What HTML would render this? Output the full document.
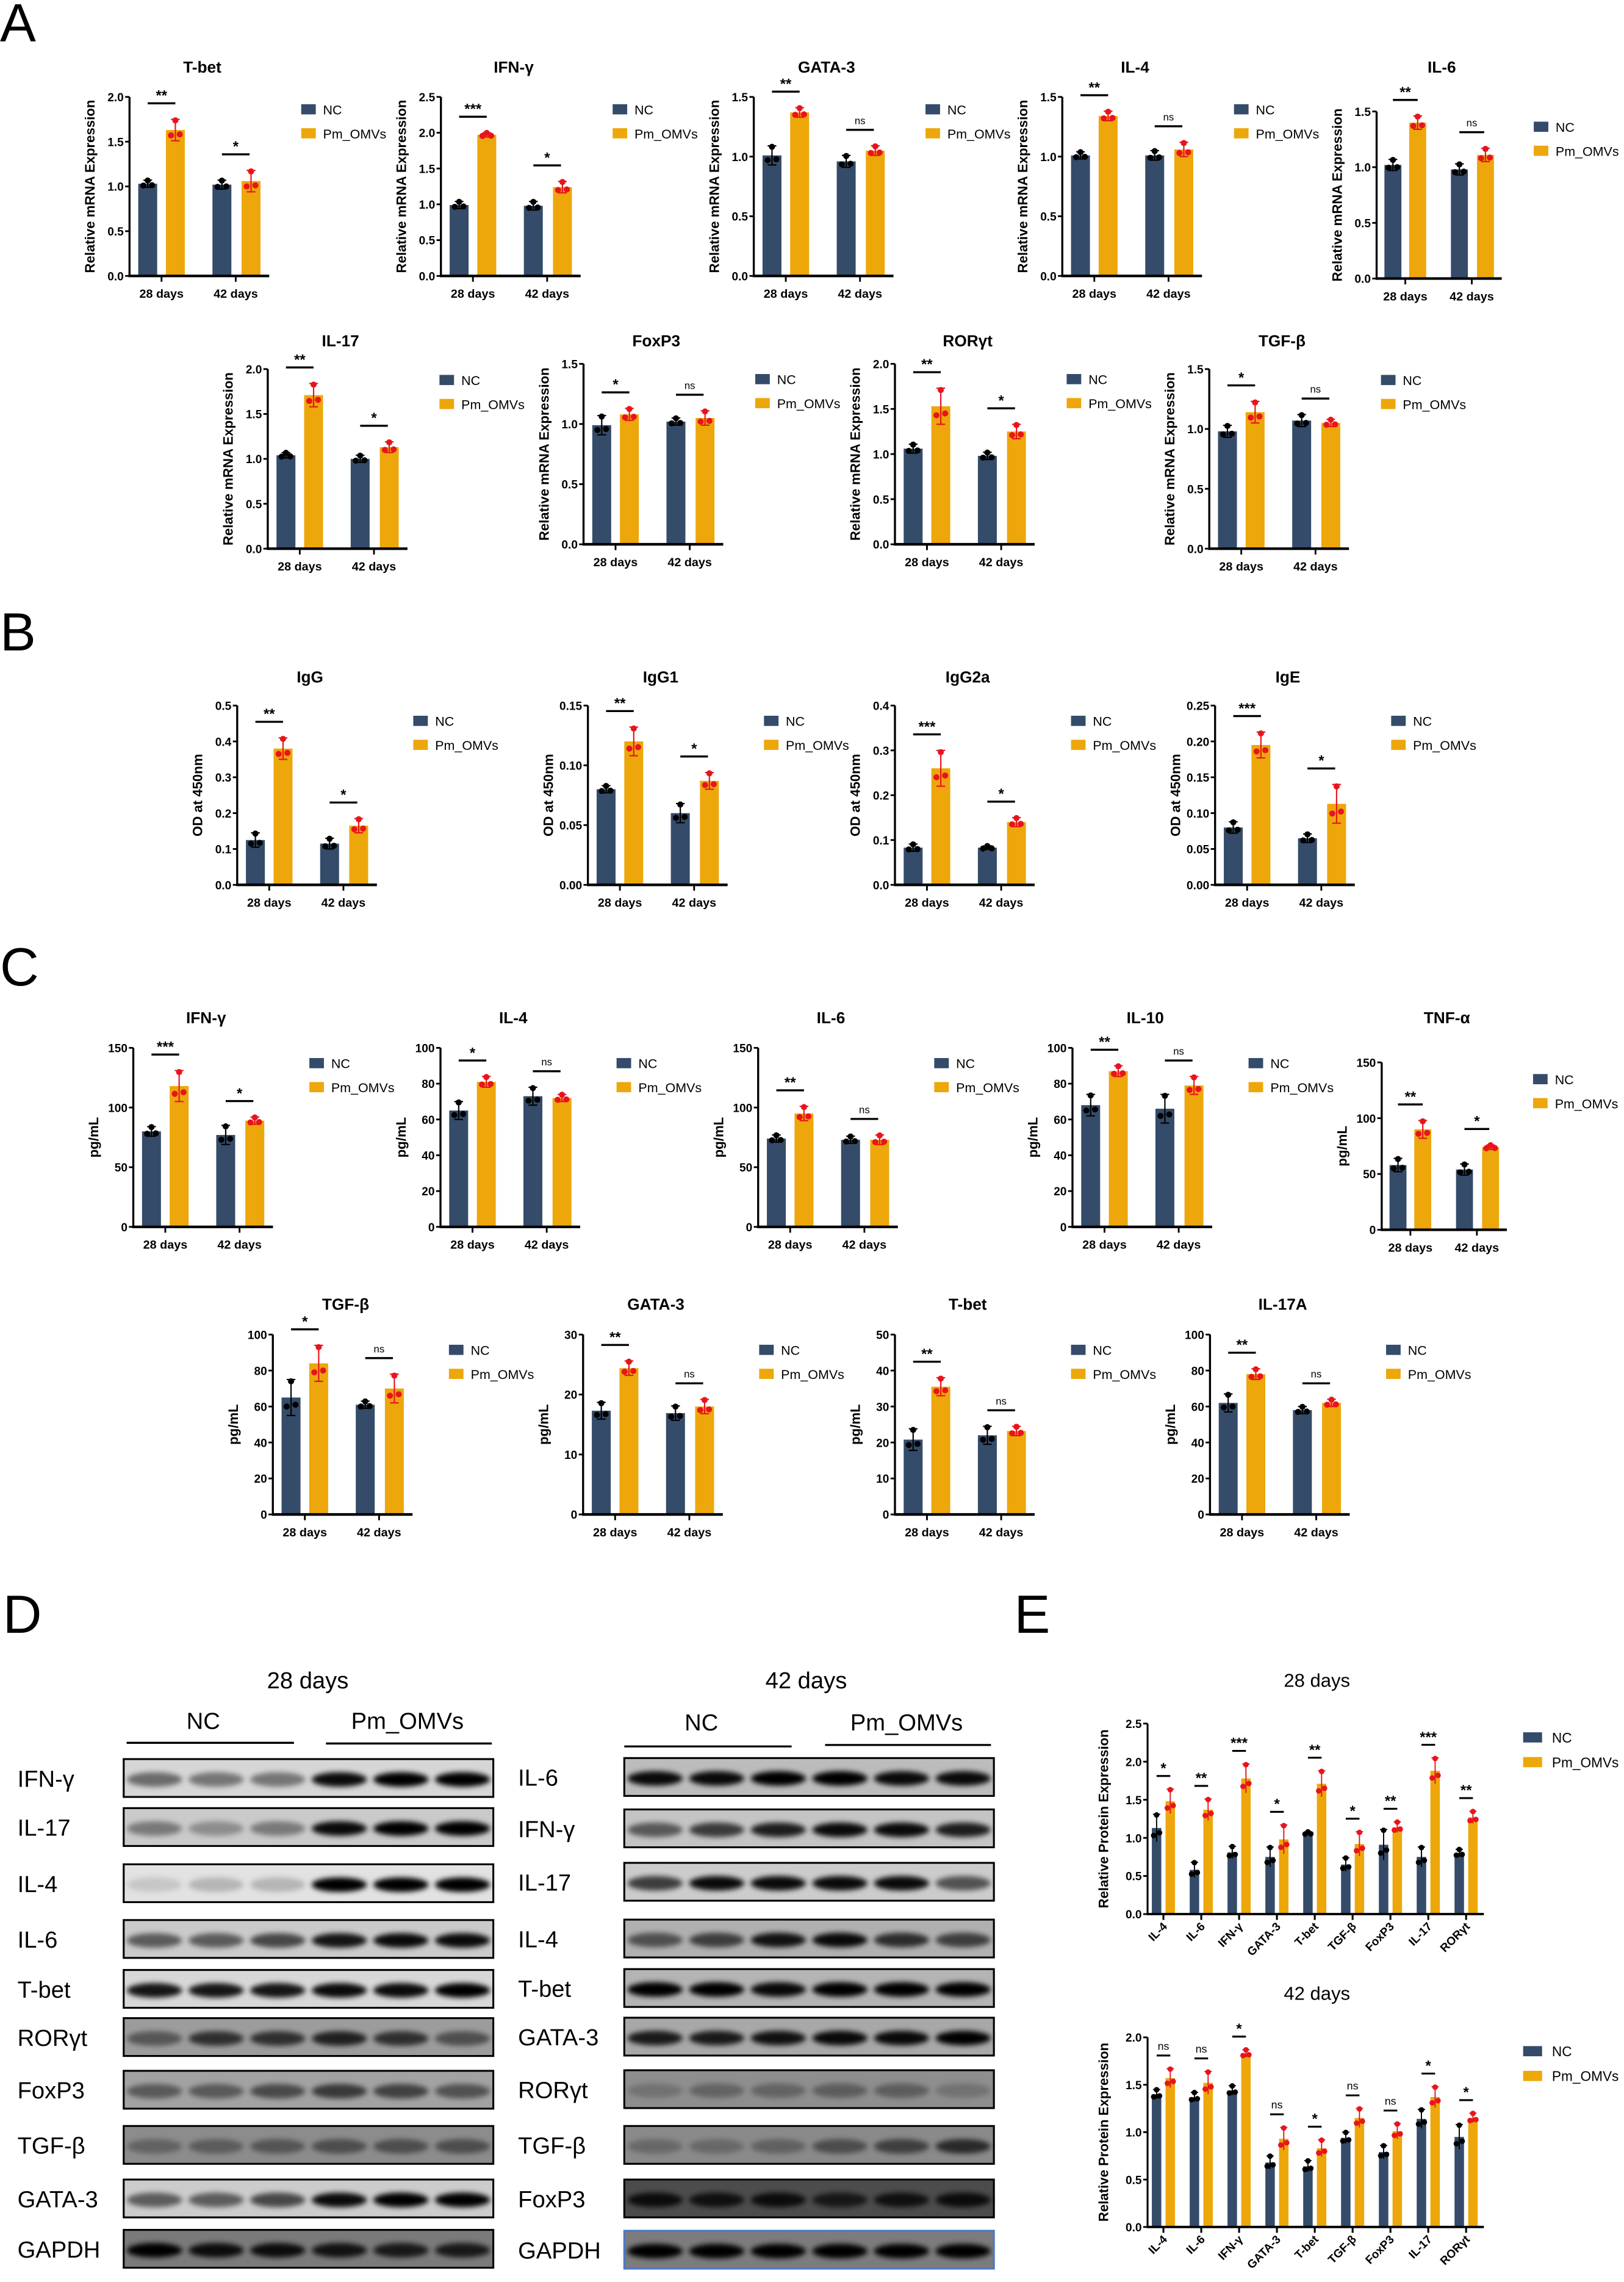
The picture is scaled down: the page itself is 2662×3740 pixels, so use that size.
<!DOCTYPE html>
<html><head><meta charset="utf-8"><style>
html,body{margin:0;padding:0;background:#fff;}
svg{display:block;}
text{font-family:"Liberation Sans",Arial,sans-serif;}
</style></head><body>
<svg id="fig" xmlns="http://www.w3.org/2000/svg" width="2662" height="3740" viewBox="0 0 1116 1568" preserveAspectRatio="none">
<defs><filter id="blur" x="-20%" y="-50%" width="140%" height="200%"><feGaussianBlur stdDeviation="1.8"/></filter></defs>
<g id="letters"></g>
<g id="charts"></g>
<g id="blots"></g>
<g id="chartsE"></g>
</svg>
<script>
const NS='http://www.w3.org/2000/svg';
const NC_COL='#344b69', PM_COL='#eda70b';
const days=['28 days','42 days'];

// ---------- Panel A data ----------
const aTitles=['T-bet','IFN-γ','GATA-3','IL-4','IL-6','IL-17','FoxP3','RORγt','TGF-β'];
const aMax=[2.0,2.5,1.5,1.5,1.5,2.0,1.5,2.0,1.5];
const aTbet=[1.03,1.63,1.02,1.06];
const aIfng=[0.99,1.97,0.98,1.24];
const aGata3=[1.01,1.37,0.96,1.05];
const aIl4=[1.01,1.34,1.01,1.06];
const aIl6=[1.02,1.40,0.98,1.11];
const aIl17=[1.04,1.71,1.00,1.13];
const aFoxp3=[0.99,1.08,1.02,1.05];
const aRorgt=[1.06,1.53,0.98,1.25];
const aTgfb=[0.98,1.14,1.07,1.05];
const aSd=[[0.04,0.12,0.05,0.12],[0.05,0.03,0.06,0.08],[0.08,0.04,0.05,0.04],[0.03,0.04,0.04,0.06],[0.05,0.06,0.05,0.06],[0.03,0.13,0.04,0.06],[0.08,0.05,0.03,0.06],[0.05,0.2,0.04,0.08],[0.05,0.09,0.05,0.03]];
const aSig=[['**','*'],['***','*'],['**','ns'],['**','ns'],['**','ns'],['**','*'],['*','ns'],['**','*'],['*','ns']];

// ---------- Panel B data ----------
const bTitles=['IgG','IgG1','IgG2a','IgE'];
const bMax=[0.5,0.15,0.4,0.25];
const bStep=[0.1,0.05,0.1,0.05];
const bDec=[1,2,1,2];
const bIgG=[0.125,0.38,0.115,0.165];
const bIgG1=[0.080,0.120,0.060,0.087];
const bIgG2a=[0.083,0.26,0.083,0.14];
const bIgE=[0.080,0.195,0.065,0.113];
const bSd=[[0.02,0.03,0.015,0.02],[0.003,0.012,0.008,0.007],[0.008,0.04,0.004,0.01],[0.008,0.018,0.006,0.027]];
const bSig=[['**','*'],['**','*'],['***','*'],['***','*']];

// ---------- Panel C data ----------
const cTitles=['IFN-γ','IL-4','IL-6','IL-10','TNF-α','TGF-β','GATA-3','T-bet','IL-17A'];
const cMax=[150,100,150,100,150,100,30,50,100];
const cStep=[50,20,50,20,50,20,10,10,20];
const cIfng=[80,118,77,89];
const cIl4=[65,81,73,72];
const cIl6=[74,95,73,73];
const cIl10=[68,87,66,79];
const cTnfa=[58,90,54,74];
const cTgfb=[65,84,61,70];
const cGata3=[17.3,24.4,16.9,18.0];
const cTbet=[20.8,35.5,22.0,23.2];
const cIl17a=[62,78,58,62];
const cSd=[[4,13,8,3],[5,3,5,2],[3,6,3,4],[6,3,8,5],[6,8,5,2],[10,10,2,8],[1.4,1.2,1.2,1.2],[3,2.5,2.5,1.3],[5,3,2,2]];
const cSig=[['***','*'],['*','ns'],['**','ns'],['**','ns'],['**','*'],['*','ns'],['**','ns'],['**','ns'],['**','ns']];

// ---------- Panel E data ----------
const eCats=['IL-4','IL-6','IFN-γ','GATA-3','T-bet','TGF-β','FoxP3','IL-17','RORγt'];
const e28NC=[1.13,0.58,0.81,0.75,1.06,0.65,0.91,0.75,0.80];
const e28PM=[1.48,1.37,1.78,0.98,1.71,0.92,1.14,1.88,1.27];
const e28NCsd=[0.18,0.1,0.08,0.13,0.02,0.09,0.2,0.13,0.05];
const e28PMsd=[0.16,0.14,0.19,0.19,0.17,0.16,0.07,0.17,0.08];
const e28Sig=['*','**','***','*','**','*','**','***','**'];
const e42NC=[1.40,1.37,1.44,0.68,0.64,0.94,0.79,1.14,0.95];
const e42PM=[1.57,1.52,1.83,0.93,0.83,1.15,1.01,1.37,1.15];
const e42NCsd=[0.05,0.05,0.05,0.07,0.06,0.06,0.07,0.1,0.13];
const e42PMsd=[0.1,0.12,0.04,0.12,0.09,0.1,0.08,0.11,0.05];
const e42Sig=['ns','ns','*','ns','*','ns','ns','*','*'];

function el(tag,attrs,parent,txt){const e=document.createElementNS(NS,tag);for(const k in attrs)e.setAttribute(k,attrs[k]);if(txt!==undefined)e.textContent=txt;parent.appendChild(e);return e;}

// letters
const L=document.getElementById('letters');
[['A',0,28.5],['B',0,447],['C',0,677],['D',2,1122],['E',697,1122]].forEach(p=>{
  const t=el('text',{x:p[1],y:p[2],'font-size':37},L,p[0]);
  
  
});

function fmt(v,d){return v.toFixed(d);}
function ticksFor(max,step,dec){const r=[];for(let v=0;v<=max+1e-9;v+=step)r.push([v,fmt(v,dec)]);return r;}

function drawChart(lay,title,ylabel,ticks,ymax,vals,sd,sig,name){
  const g=el('g',{},document.getElementById('charts'));
  
  
  const ax=lay[0],top=lay[1],bot=lay[2],w=lay[3]||96,s=w/96;
  const y=v=>bot-(v/ymax)*(bot-top);
  const xs=[[6,19],[25,38],[57,70],[77,90]];
  const tt=el('text',{x:ax+50*s,y:lay[4],'font-size':11,'font-weight':'bold','text-anchor':'middle'},g,title);
  
  
  const yl=el('text',{x:0,y:0,'font-size':9.3,'font-weight':'bold','text-anchor':'middle',transform:`translate(${ax-24},${(top+bot)/2}) rotate(-90)`},g,ylabel);
  
  
  vals.forEach((v,i)=>{
    const x0=ax+xs[i][0]*s,x1=ax+xs[i][1]*s,isPm=i%2==1;
    const r=el('rect',{x:x0,y:y(v),width:x1-x0,height:bot-y(v),fill:isPm?PM_COL:NC_COL},g);
    
    
    const cx=(x0+x1)/2,col=isPm?'#e8141c':'#000';
    el('line',{x1:cx,x2:cx,y1:y(v-sd[i]),y2:y(v+sd[i]),stroke:col,'stroke-width':0.9},g);
    el('line',{x1:cx-3,x2:cx+3,y1:y(v+sd[i]),y2:y(v+sd[i]),stroke:col,'stroke-width':0.9},g);
    el('line',{x1:cx-3,x2:cx+3,y1:y(v-sd[i]),y2:y(v-sd[i]),stroke:col,'stroke-width':0.9},g);
    [[0,0.9],[-3,-0.5],[3,-0.4]].forEach(p=>{
      const c=el('circle',{cx:cx+p[0],cy:y(v+sd[i]*p[1]),r:2.1,fill:col},g);
      
      
    });
  });
  el('line',{x1:ax,x2:ax,y1:top,y2:bot,stroke:'#000','stroke-width':1.4},g);
  el('line',{x1:ax-0.7,x2:ax+w,y1:bot,y2:bot,stroke:'#000','stroke-width':1.8},g);
  ticks.forEach(t=>{
    el('line',{x1:ax-3,x2:ax,y1:y(t[0]),y2:y(t[0]),stroke:'#000','stroke-width':1.2},g);
    const tl=el('text',{x:ax-4,y:y(t[0])+3,'font-size':8,'font-weight':'bold','text-anchor':'end'},g,t[1]);
    
    
  });
  [22,73].forEach((c,i)=>{
    el('line',{x1:ax+c*s,x2:ax+c*s,y1:bot,y2:bot+4,stroke:'#000','stroke-width':1.2},g);
    const xl=el('text',{x:ax+c*s,y:bot+15,'font-size':8.3,'font-weight':'bold','text-anchor':'middle'},g,days[i]);
    
    
  });
  [0,1].forEach(k=>{
    const m=Math.max(vals[2*k]+sd[2*k],vals[2*k+1]+sd[2*k+1]);
    const ly=y(m)-11, cx=ax+(22+51*k)*s;
    el('line',{x1:cx-9.5*s,x2:cx+9.5*s,y1:ly,y2:ly,stroke:'#000','stroke-width':1.4},g);
    const st=el('text',{x:cx,y:sig[k]=='ns'?ly-4:ly-2,'font-size':sig[k]=='ns'?7:10,'font-weight':sig[k]=='ns'?'normal':'bold','text-anchor':'middle'},g,sig[k]);
    
    
  });
  const lx=ax+lay[5],ly=top+lay[6];
  const lg=el('g',{},g);
  
  
  el('rect',{x:lx,y:ly,width:10,height:7,fill:NC_COL},lg);
  el('text',{x:lx+15,y:ly+7,'font-size':9},lg,'NC');
  el('rect',{x:lx,y:ly+16.5,width:10,height:7,fill:PM_COL},lg);
  el('text',{x:lx+15,y:ly+23.5,'font-size':9},lg,'Pm_OMVs');
}

// layouts: [axisX, top, bottom, width, titleY, legendDX, legendDY]
const aLay=[[89,66.6,189.6,96,50,118,5],[303,66.6,189.6,96,50,118,5],[518,66.6,189.6,96,50,118,5],[730,66.6,189.6,96,50,118,5],[946,76.6,191.4,86,50,108,7],
            [184,253.6,377,96,238,118,4],[401,250,374,96,238,118,7],[615,250,374,96,238,118,7],[831,253.6,377,96,238,118,4]];
const aVals=[aTbet,aIfng,aGata3,aIl4,aIl6,aIl17,aFoxp3,aRorgt,aTgfb];
aVals.forEach((v,i)=>drawChart(aLay[i],aTitles[i],'Relative mRNA Expression',ticksFor(aMax[i],0.5,1),aMax[i],v,aSd[i],aSig[i],'a-'+i));

const bLay=[[163,484.8,608,96,469,121,7],[404,484.8,608,96,469,121,7],[615,484.8,608,96,469,121,7],[835,484.8,608,96,469,121,7]];
const bVals=[bIgG,bIgG1,bIgG2a,bIgE];
bVals.forEach((v,i)=>drawChart(bLay[i],bTitles[i],'OD at 450nm',ticksFor(bMax[i],bStep[i],bDec[i]),bMax[i],v,bSd[i],bSig[i],'b-'+i));

const cLay=[[91.6,720,843,96,703,121,7],[302.7,720,843,96,703,121,7],[521,720,843,96,703,121,7],[737,720,843,96,703,121,7],[949.5,730,845,86,703,104,8],
            [187.5,917,1040.6,96,900,121,7],[400.7,917,1040.6,96,900,121,7],[615,917,1040.6,96,900,121,7],[831.5,917,1040.6,96,900,121,7]];
const cVals=[cIfng,cIl4,cIl6,cIl10,cTnfa,cTgfb,cGata3,cTbet,cIl17a];
cVals.forEach((v,i)=>drawChart(cLay[i],cTitles[i],'pg/mL',ticksFor(cMax[i],cStep[i],0),cMax[i],v,cSd[i],cSig[i],'c-'+i));

// ---------- Panel E ----------
function drawE(top,bot,ymax,title,titleY,nc,pm,ncSd,pmSd,sig,name){
  const g=el('g',{},document.getElementById('chartsE'));
  
  
  const ax=788.6,xe=1019.7,y=v=>bot-(v/ymax)*(bot-top);
  const tt=el('text',{x:905,y:titleY,'font-size':13,'text-anchor':'middle'},g,title);
  
  
  const yl=el('text',{x:0,y:0,'font-size':9.3,'font-weight':'bold','text-anchor':'middle',transform:`translate(${ax-27},${(top+bot)/2}) rotate(-90)`},g,'Relative Protein Expression');
  
  
  eCats.forEach((c,i)=>{
    const tx=ax+10.9+i*26;
    [[nc[i],ncSd[i],-4.7,NC_COL,'#000','nc'],[pm[i],pmSd[i],4.7,PM_COL,'#e8141c','pm-omvs']].forEach(b=>{
      const cx=tx+b[2];
      const r=el('rect',{x:cx-3.25,y:y(b[0]),width:6.5,height:bot-y(b[0]),fill:b[3]},g);
      
      
      el('line',{x1:cx,x2:cx,y1:y(b[0]-b[1]),y2:y(b[0]+b[1]),stroke:b[4],'stroke-width':0.8},g);
      el('line',{x1:cx-2.5,x2:cx+2.5,y1:y(b[0]+b[1]),y2:y(b[0]+b[1]),stroke:b[4],'stroke-width':0.8},g);
      [[0,0.95],[-2,-0.55],[2,-0.35]].forEach(p=>{
        const d=el('circle',{cx:cx+p[0],cy:y(b[0]+b[1]*p[1]),r:1.9,fill:b[4]},g);
        
        
      });
    });
    el('line',{x1:tx,x2:tx,y1:bot,y2:bot+4,stroke:'#000','stroke-width':1.3},g);
    const xl=el('text',{x:0,y:0,'font-size':8,'font-weight':'bold','text-anchor':'end',transform:`translate(${tx+3},${bot+9}) rotate(-45)`},g,c);
    
    
    const m=Math.max(nc[i]+ncSd[i],pm[i]+pmSd[i]);
    const ly=y(m)-9;
    el('line',{x1:tx-4.7,x2:tx+4.7,y1:ly,y2:ly,stroke:'#000','stroke-width':1.3},g);
    const st=el('text',{x:tx,y:sig[i]=='ns'?ly-4:ly-2,'font-size':sig[i]=='ns'?7.5:10,'font-weight':sig[i]=='ns'?'normal':'bold','text-anchor':'middle'},g,sig[i]);
    
    
  });
  el('line',{x1:ax,x2:ax,y1:top,y2:bot,stroke:'#000','stroke-width':1.3},g);
  el('line',{x1:ax-0.6,x2:xe,y1:bot,y2:bot,stroke:'#000','stroke-width':1.6},g);
  for(let v=0;v<=ymax+1e-9;v+=0.5){
    el('line',{x1:ax-3,x2:ax,y1:y(v),y2:y(v),stroke:'#000','stroke-width':1.2},g);
    const tl=el('text',{x:ax-4,y:y(v)+3,'font-size':8,'font-weight':'bold','text-anchor':'end'},g,v.toFixed(1));
    
    
  }
  const lg=el('g',{},g);
  
  
  el('rect',{x:1046.7,y:top+6,width:13,height:7,fill:NC_COL},lg);
  el('text',{x:1066.5,y:top+13,'font-size':9.5},lg,'NC');
  el('rect',{x:1046.7,y:top+23,width:13,height:7,fill:PM_COL},lg);
  el('text',{x:1066.5,y:top+30,'font-size':9.5},lg,'Pm_OMVs');
}
drawE(1184.3,1315.2,2.5,'28 days',1159,e28NC,e28PM,e28NCsd,e28PMsd,e28Sig,'e-28d');
drawE(1399.9,1530.2,2.0,'42 days',1374,e42NC,e42PM,e42NCsd,e42PMsd,e42Sig,'e-42d');

// ---------- Panel D western blots ----------
const blotLeftLabels=['IFN-γ','IL-17','IL-4','IL-6','T-bet','RORγt','FoxP3','TGF-β','GATA-3','GAPDH'];
const blotRightLabels=['IL-6','IFN-γ','IL-17','IL-4','T-bet','GATA-3','RORγt','TGF-β','FoxP3','GAPDH'];
const blotLeftBg=['#d6d6d6','#cacaca','#e2e2e2','#cacaca','#d8d8d8','#9c9c9c','#a2a2a2','#8c8c8c','#cccccc','#7a7a7a'];
const blotRightBg=['#bcbcbc','#c4c4c4','#cccccc','#b0b0b0','#b4b4b4','#a8a8a8','#8e8e8e','#8a8a8a','#4c4c4c','#7c7c7c'];
const blotLeftBands=[[.5,.45,.45,.95,1,1],[.4,.3,.4,.95,1,1],[.12,.2,.2,1,1,1],[.55,.55,.65,.9,.95,.95],[.9,.9,.9,.95,.95,1],[.45,.7,.7,.8,.7,.5],[.45,.45,.55,.65,.6,.5],[.3,.35,.4,.45,.45,.45],[.55,.55,.65,.95,1,1],[1,.9,.9,.85,.8,.8]];
const blotRightBands=[[.95,.95,1,1,.95,.95],[.55,.7,.85,.95,.95,.85],[.7,.95,.95,.95,.95,.6],[.55,.65,.9,.95,.75,.65],[1,1,.95,1,1,1],[.85,.85,.9,.95,.95,1],[.2,.3,.3,.35,.35,.2],[.25,.25,.3,.45,.55,.7],[.85,.8,.85,.7,.8,.85],[1,1,1,1,1,1]];
const blotLeftY=[1208.7,1242.4,1281,1319.3,1353.6,1386.7,1422.9,1460.8,1497.6,1532.2];
const blotRightY=[1208,1243.3,1280,1319,1353,1386.4,1422.5,1460.8,1497.6,1532.8];
const B=document.getElementById('blots');
function hdr(x,y,t,nm){const e=el('text',{x:x,y:y,'font-size':16,'text-anchor':'middle'},B,t);}
hdr(211.5,1160,'28 days','blot-header-28-days');hdr(554,1160,'42 days','blot-header-42-days');
hdr(139.7,1188,'NC','blot-group-nc-left');hdr(280,1188,'Pm_OMVs','blot-group-pm-left');
hdr(482,1189,'NC','blot-group-nc-right');hdr(623,1189,'Pm_OMVs','blot-group-pm-right');
[[87,202,1197.5],[224,338,1198],[429,544,1200],[567,681,1199]].forEach(l=>el('line',{x1:l[0],x2:l[1],y1:l[2],y2:l[2],stroke:'#000','stroke-width':1.4},B));
function blots(x0,labelX,labels,bgs,bands,ys,side){
  labels.forEach((lab,i)=>{
    const g=el('g',{},B);
    
    
    const w=254,h=26,y0=ys[i];
    el('rect',{x:x0,y:y0,width:w,height:h,fill:bgs[i]},g);
    bands[i].forEach((d,k)=>{
      const cx=x0+(k+0.5)*w/6;
      el('ellipse',{cx:cx,cy:y0+h/2+1,rx:19,ry:5,fill:'#000','fill-opacity':d,filter:'url(#blur)'},g);
    });
    el('rect',{x:x0,y:y0,width:w,height:h,fill:'none',stroke:(side=='right'&&i==9)?'#4a78c8':'#000','stroke-width':1.3},g);
    const t=el('text',{x:labelX,y:y0+h/2+6,'font-size':16},g,lab);
    
    
  });
}
blots(85,12,blotLeftLabels,blotLeftBg,blotLeftBands,blotLeftY,'left');
blots(429,356,blotRightLabels,blotRightBg,blotRightBands,blotRightY,'right');
</script>
</body></html>
